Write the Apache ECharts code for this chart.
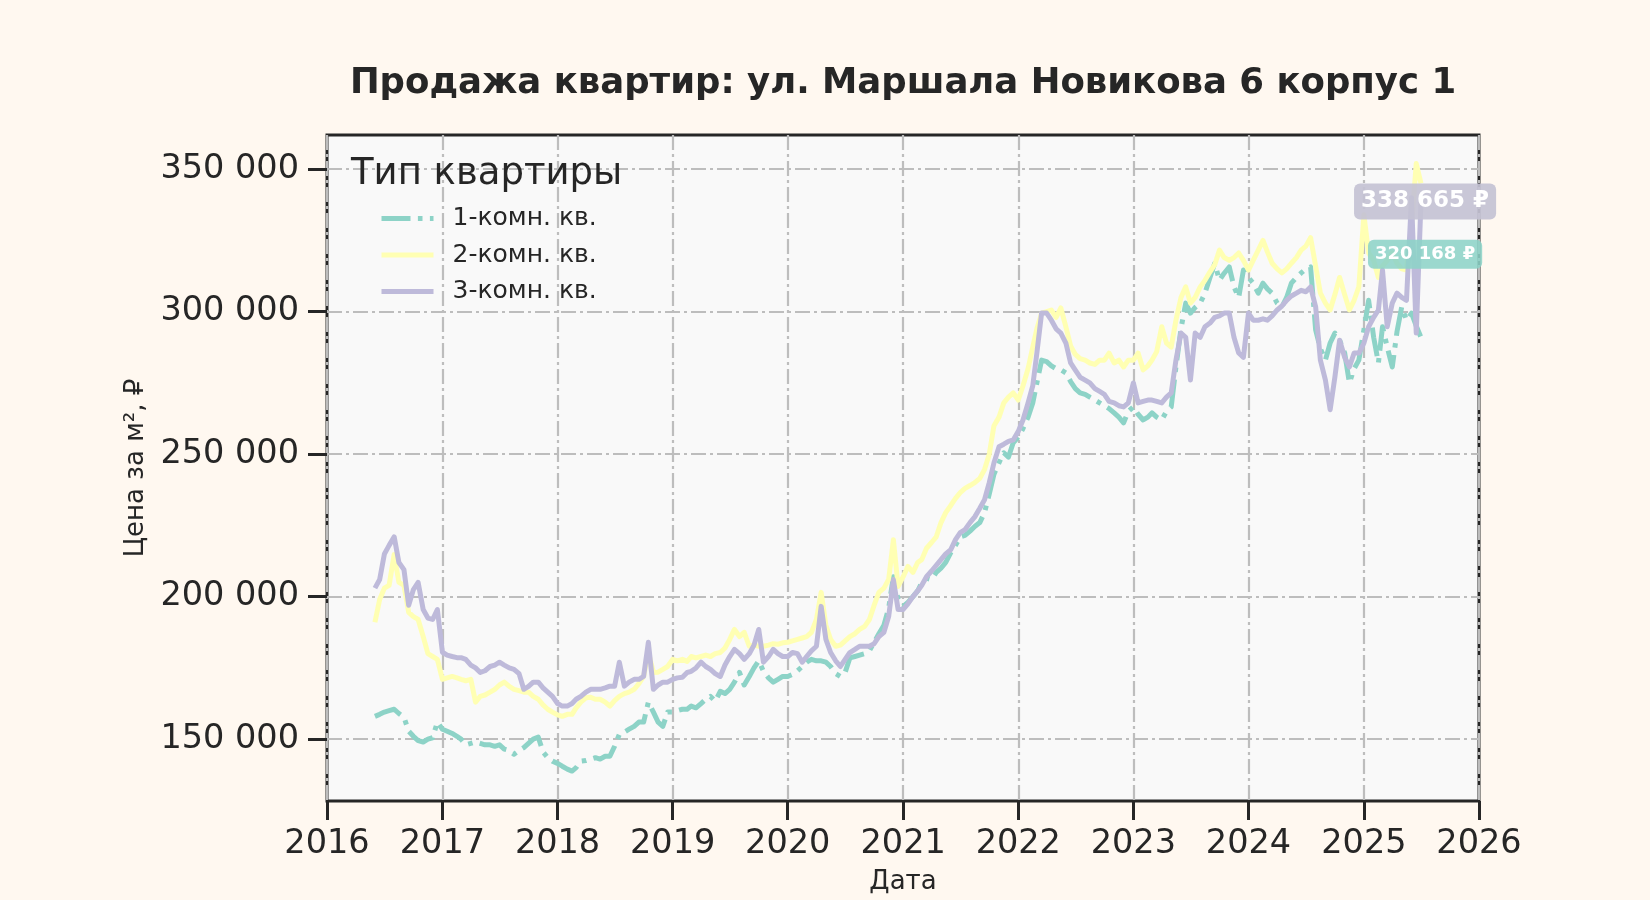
<!DOCTYPE html>
<html>
<head>
<meta charset="utf-8">
<title>Продажа квартир</title>
<script src="https://cdn.jsdelivr.net/npm/echarts@6/dist/echarts.min.js"></script>
<style>
  html, body { margin: 0; padding: 0; background: #fff8f0; }
  #chart { width: 1650px; height: 900px; }
</style>
</head>
<body>
<div id="chart"></div>
<script>
// подписи
var chartTitle = 'Продажа квартир: ул. Маршала Новикова 6 корпус 1';
var legendTitle = 'Тип квартиры';
var seriesNames = ['1-комн. кв.', '2-комн. кв.', '3-комн. кв.'];
var xTicks = ['2016-01-01', '2017-01-01', '2018-01-01', '2019-01-01', '2020-01-01', '2021-01-01',
              '2022-01-01', '2023-01-01', '2024-01-01', '2025-01-01', '2026-01-01'];
var yTicks = [150000, 200000, 250000, 300000, 350000];

// даты: 1-е и 16-е число месяца, с июня 2016 по 1 июля 2025
var dates = [];
for (var y = 2016; y <= 2025; y++) {
  for (var m = 1; m <= 12; m++) {
    if (y === 2016 && m < 6) continue;
    var mm = (m < 10 ? '0' : '') + m;
    dates.push(y + '-' + mm + '-01');
    if (y === 2025 && m === 7) break;
    dates.push(y + '-' + mm + '-16');
  }
  if (y === 2025) break;
}

// цена за м², тыс. ₽
var room1 = [
  158, 158.7, 159.5, 160, 160.5, 159, 157.7, 152.8, 151, 149.5, 149, 150, 150.5, 156,                              // 2016
  153.5, 152.8, 152, 151, 150, 148, 148.5, 149, 148.5, 148, 148, 147.5, 148, 146.5, 146, 144.7, 146, 147, 148.5, 150, 150.7, 145.5, 143.5, 142.3, // 2017
  141.5, 140.5, 139.5, 138.8, 140, 142.3, 142.5, 143, 143.5, 143, 144, 144, 147.5, 151.7, 152.5, 153.5, 154.5, 156, 156, 163, 159.5, 156, 154.5, 159.5, // 2018
  159.5, 160, 160.5, 160.5, 161.6, 161, 162.5, 164, 165, 163.3, 166.8, 166, 167.5, 170, 173.4, 169, 172, 175, 177.5, 173.8, 171.5, 170, 171, 172, // 2019
  172, 172.7, 174, 175.5, 177, 178, 177.5, 177.5, 177, 175.5, 173, 172, 173.4, 178.5, 179, 179.5, 180, 181, 184, 187, 190, 196, 207, 199, // 2020
  196.6, 198, 200, 202, 205, 206.5, 206, 208.5, 210, 212, 215.5, 218, 221, 221.5, 223, 224.6, 226, 229.5, 236, 243, 247, 250.5, 249, 254, // 2021
  256, 259, 263, 268, 275, 283, 282.5, 281, 280, 279.6, 278.5, 275.5, 273, 271.5, 271, 270, 269, 268, 267, 266, 264.5, 263, 261, 265, // 2022
  266.6, 264, 262, 263, 264.5, 263, 262, 265, 266.6, 280.6, 294, 303, 299.5, 301.5, 303, 306.5, 312, 317, 311, 313.5, 315.7, 308.7, 305, 314.6, // 2023
  312, 310, 306.5, 310, 308, 306.5, 303, 301.7, 305, 310, 312, 313.6, 315, 315.7, 293.6, 287, 283, 289, 292.5, 290, 285.5, 275, 280, 283, // 2024
  293.6, 304, 291, 282, 294.7, 287.6, 280.6, 293, 301.7, 297, 299.5, 295, 291                                     // 2025
];
var room2 = [
  191, 199, 203, 204, 214.8, 205, 204, 194.5, 193, 192, 186, 180, 179, 178,
  171, 171.5, 172, 171.5, 171, 170.5, 171, 163, 165, 165.5, 166.5, 167.5, 169, 170, 168.5, 167.5, 167, 166.5, 166.5, 165, 164, 162, 160.5, 159.5,
  158.5, 158, 158.7, 158.7, 161, 163, 164.5, 164.7, 164, 164, 163, 161.6, 163.5, 165, 166, 166.5, 167.5, 169.5, 172, 180.5, 173.4, 173.5, 174.5, 175.5,
  178, 177.5, 178, 177.3, 179, 178.5, 179, 179.5, 179, 180, 180.4, 182, 185, 188.5, 186, 187.5, 182.6, 183, 182.6, 182.6, 183, 183.5, 183.3, 183.8,
  184, 184.5, 185, 185.5, 186, 187.5, 192, 201.5, 190, 185, 182.6, 183, 184.5, 186, 187, 188.5, 189.6, 192, 197, 201.5, 203, 206, 220, 203.6,
  207, 210.6, 208.5, 212, 213, 217, 219, 221, 226, 229.5, 232, 234.5, 236.5, 238, 239, 240, 241.5, 244.6, 250, 260, 263, 268, 270, 271.5,
  269, 274, 280, 287.6, 294, 299.5, 300, 300.6, 298, 301.3, 294.7, 288, 285, 283.5, 283, 282, 281.5, 283, 283, 285.5, 282, 283, 280.6, 283,
  283, 285.5, 279.6, 281, 283, 286, 294.7, 289, 287.6, 297, 305, 308.7, 303, 305, 308.7, 311, 314, 316.5, 321.6, 319, 318, 319, 320.6, 318,
  314.6, 318, 321.6, 325, 321, 317, 315, 313.6, 315, 317, 319, 321.6, 323, 326, 316, 306.5, 303, 300.6, 306, 312, 306, 300.6, 304, 308.7,
  334, 320.6, 318, 312, 316, 318, 320.6, 317, 315, 314.6, 330, 352, 345
];
var room3 = [
  203, 206, 215, 218, 221, 212, 209.5, 197, 202.5, 205, 195.5, 192.5, 192, 195.5,
  180.5, 179.5, 179, 178.6, 178.6, 178, 176, 175, 173.4, 174, 175.5, 176, 177, 176, 175, 174.5, 173, 167.5, 168.5, 170, 170, 168, 166.5, 165,
  162.5, 161.6, 161.6, 162.5, 164, 165, 166.5, 167.5, 167.5, 167.5, 168, 168.6, 168.6, 177, 168.6, 170, 171, 171, 172, 184, 167.5, 169, 170, 170,
  171, 171.5, 171.7, 173.4, 173.8, 175, 177, 175.5, 174.5, 173, 172, 176, 179, 181.5, 180, 178, 180, 183, 188.5, 177, 179, 181.5, 180, 179,
  179, 180.4, 180, 177, 179, 181, 182.6, 196.6, 185, 180.4, 177.5, 175.5, 178, 180.4, 181.5, 182.6, 182.6, 182.6, 183.5, 186, 187.5, 193, 206, 195.5,
  195.5, 197.5, 200, 202, 204, 207, 209, 211, 213, 215, 216.5, 220, 222.5, 223.5, 226, 228, 231, 234, 240, 247, 252.6, 253.5, 254.5, 255,
  258, 262, 268, 274, 285.5, 299.5, 299.5, 297, 294, 292.5, 289, 282, 279.5, 277, 276, 275, 273, 272, 271, 268.5, 268, 267, 266.6, 268,
  275, 268, 268.5, 269, 269, 268.5, 268, 270, 271.5, 283, 292.5, 291, 276, 292.5, 291, 294.7, 296, 298, 298.5, 299.5, 299.5, 291, 285.5, 284,
  299.5, 297, 297, 297.5, 297, 298.5, 300.6, 302, 304, 305.5, 306.5, 307.5, 307, 308.7, 301.7, 283, 276, 265.6, 277, 290, 284, 280.6, 285.5, 285.5,
  289, 294.7, 298, 300.6, 314.6, 294.7, 303, 306.5, 305, 304, 340, 292.5, 338.7
];

// подписи последних цен
var endLabelDate = '2025-07-14';
var endValue1 = 320168;
var endValue3 = 338665;

var colors = ['#8dd3c7', '#ffffb3', '#bebada'];
var font = 'DejaVu Sans';
var ink = '#262626';
var lw = 5;

function ts(d) {
  return echarts.time.parse(d).getTime();
}
function fmtNum(v) {
  return String(v).replace(/\B(?=(\d{3})+(?!\d))/g, ' ');
}
function toPairs(vals) {
  var out = [];
  for (var i = 0; i < vals.length && i < dates.length; i++) {
    out.push([ts(dates[i]), vals[i] * 1000]);
  }
  return out;
}

var gridLine = { color: '#bdbdbd', width: 2.2, type: [15, 4, 3, 4] };
var tickStyle = { color: ink, width: 3 };
var xTickValues = xTicks.map(ts);

function endMark(value, color, size, pad) {
  return {
    symbol: 'rect',
    symbolSize: 1,
    silent: true,
    itemStyle: { color: 'rgba(0,0,0,0)' },
    label: {
      show: true,
      position: 'inside',
      formatter: fmtNum(value) + ' ₽',
      color: '#ffffff',
      fontWeight: 'bold',
      fontSize: size,
      fontFamily: font,
      backgroundColor: color,
      borderRadius: 6,
      padding: pad
    },
    data: [{ coord: [ts(endLabelDate), value] }]
  };
}

var myChart = echarts.init(document.getElementById('chart'));

var option = {
  backgroundColor: '#fff8f0',
  animation: false,
  textStyle: { fontFamily: font, color: ink },
  title: [{
    text: chartTitle,
    left: 903,
    top: 66,
    textAlign: 'center',
    padding: 0,
    textStyle: { fontSize: 35.5, fontWeight: 'bold', color: ink, fontFamily: font }
  }, {
    text: legendTitle,
    left: 351,
    top: 156,
    padding: 0,
    textStyle: { fontSize: 37, fontWeight: 'normal', color: ink, fontFamily: font }
  }],
  legend: {
    orient: 'vertical',
    left: 379,
    top: 206,
    padding: 0,
    itemWidth: 52,
    itemHeight: 14,
    itemGap: 11.5,
    itemStyle: { opacity: 0 },
    lineStyle: { width: lw },
    textStyle: { fontSize: 25, color: ink, fontFamily: font, padding: [0, 0, 0, 14] },
    data: seriesNames
  },
  grid: {
    left: 327,
    right: 171,
    top: 135,
    bottom: 98,
    show: true,
    backgroundColor: '#f9f9f9',
    borderColor: ink,
    borderWidth: 3
  },
  xAxis: {
    type: 'value',
    min: xTickValues[0],
    max: xTickValues[xTickValues.length - 1],
    name: 'Дата',
    nameLocation: 'middle',
    nameGap: 68,
    nameTextStyle: { fontSize: 26, color: ink, fontFamily: font },
    axisLine: { show: false },
    axisTick: { show: true, length: 19, lineStyle: tickStyle, customValues: xTickValues },
    axisLabel: {
      fontSize: 33.5, color: ink, fontFamily: font, margin: 26,
      customValues: xTickValues,
      formatter: function (v) { return String(new Date(v).getFullYear()); }
    },
    splitLine: { show: true, lineStyle: gridLine }
  },
  yAxis: {
    type: 'value',
    min: 128300,
    max: 362000,
    name: 'Цена за м², ₽',
    nameLocation: 'middle',
    nameGap: 171,
    nameTextStyle: { fontSize: 26, color: ink, fontFamily: font },
    axisLine: { show: false },
    axisTick: { show: true, length: 19, lineStyle: tickStyle, customValues: yTicks },
    axisLabel: {
      fontSize: 33.5, color: ink, fontFamily: font, margin: 28,
      customValues: yTicks,
      formatter: function (v) { return fmtNum(v); }
    },
    splitLine: { show: true, lineStyle: gridLine }
  },
  series: [{
    name: seriesNames[0],
    type: 'line',
    symbol: 'none',
    data: toPairs(room1),
    lineStyle: { color: colors[0], width: lw, type: [29, 7.4, 4.6, 7.4], cap: 'butt', join: 'round' },
    itemStyle: { color: colors[0] },
    markPoint: endMark(endValue1, 'rgba(141,211,199,0.88)', 18, [6, 7, 5, 7])
  }, {
    name: seriesNames[1],
    type: 'line',
    symbol: 'none',
    data: toPairs(room2),
    lineStyle: { color: colors[1], width: lw, join: 'round' },
    itemStyle: { color: colors[1] }
  }, {
    name: seriesNames[2],
    type: 'line',
    symbol: 'none',
    data: toPairs(room3),
    lineStyle: { color: colors[2], width: lw, join: 'round' },
    itemStyle: { color: colors[2] },
    markPoint: endMark(endValue3, 'rgba(196,194,212,0.92)', 23, [7, 7, 6, 7])
  }]
};

myChart.setOption(option);
</script>
</body>
</html>
